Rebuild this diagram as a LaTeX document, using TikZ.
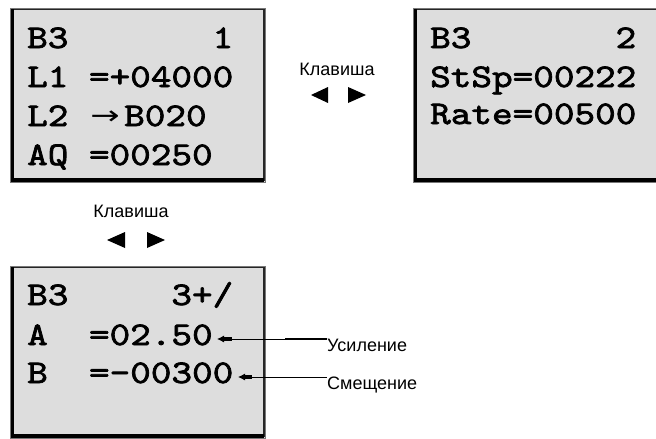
\documentclass[tikz,border=0pt]{standalone}
\usepackage{fontspec}
\setmainfont{Liberation Sans}
\newfontfamily\lcdfont{lmmono10-regular.otf}[FakeBold=2.2,FakeStretch=1.19]
\newfontfamily\symfont{DejaVu Sans}
\usetikzlibrary{arrows.meta}
\definecolor{lcdfill}{RGB}{221,221,221}
\definecolor{lcdrim}{RGB}{120,120,120}
\newcommand\lcdpanel[4]{%
  \fill[lcdfill] (#1,#2) rectangle (#3,#4);
  \draw[lcdrim,line width=1pt] (#1,#2) rectangle (#3,#4);
  \draw[black!85,line width=1.6pt] (#1+1,#2+1.3) -- (#3-1.3,#2+1.3) -- (#3-1.3,#4-1);
  \draw[black,line width=3.4pt] (#1+2.2,#2+1) -- (#1+2.2,#4-2.2) -- (#3-1,#4-2.2);
}
\begin{document}
\begin{tikzpicture}[x=1pt,y=-1pt,
  lcdtxt/.style={anchor=base west,inner sep=0pt,font=\fontsize{33}{33}\lcdfont},
  keytxt/.style={anchor=base,inner sep=0pt,font=\fontsize{18}{18}\selectfont},
  lbl/.style={anchor=base west,inner sep=0pt,font=\fontsize{18}{18}\selectfont},
  keytri/.style={fill=black},
  callout/.style={line width=0.9pt,{Latex[length=7pt,width=7pt]}-},
  stub/.style={line width=3.6pt}]
\useasboundingbox (0,0) rectangle (656,439);
\clip (0,0) rectangle (656,439);
\fill[white] (0,0) rectangle (656,439);

% panel 1
\lcdpanel{10}{8}{265}{182}
\node[lcdtxt] (p1b3) at (27,48) {B3};
\node[lcdtxt] (p1n)  at (212.4,48) {1};
\node[lcdtxt] (p1l1) at (27,87) {L1};
\node[lcdtxt] (p1l1v) at (88.8,87) {=+04000};
\node[lcdtxt] (p1l2) at (27,126) {L2};
\node[anchor=base,inner sep=0pt,font=\fontsize{26}{26}\symfont] (p1arr) at (105,124) {\scalebox{1.35}[1]{→}};
\node[lcdtxt] (p1l2v) at (124,126) {B020};
\node[lcdtxt] (p1aq) at (27,165) {AQ};
\node[lcdtxt] (p1aqv) at (88.8,165) {=00250};

% panel 2
\lcdpanel{413}{8}{670}{182}
\node[lcdtxt] (p2b3) at (430,48) {B3};
\node[lcdtxt] (p2n)  at (615.4,48) {2};
\node[lcdtxt] (p2s) at (430,87) {StSp=00222};
\node[lcdtxt] (p2r) at (430,124) {Rate=00500};

% panel 3
\lcdpanel{10}{266}{265}{438}
\node[lcdtxt] (p3b3) at (27,305) {B3};
\node[lcdtxt] (p3n)  at (171.2,305) {3+/};
\node[lcdtxt] (p3a) at (27,345) {A};
\node[lcdtxt] (p3av) at (88.8,345) {=02.50};
\node[lcdtxt] (p3b) at (27,383) {B};
\node[lcdtxt] (p3bv) at (88.8,383) {=–00300};

% key labels
\node[keytxt] (key1) at (337,75) {Клавиша};
\fill[keytri] (328,87) -- (311,95) -- (328,103) -- cycle;
\fill[keytri] (348,87) -- (366,95) -- (348,103) -- cycle;
\node[keytxt] (key2) at (131,217) {Клавиша};
\fill[keytri] (125,232) -- (107,240) -- (125,248) -- cycle;
\fill[keytri] (147,232) -- (165,240) -- (147,248) -- cycle;

% callouts
\node[lbl] (gain) at (327,351) {Усиление};
\node[lbl] (offs) at (327,389) {Смещение};
\coordinate (ga) at (217,339);
\coordinate (ob) at (238,377);
\draw[callout] (ga) -- (gain.west |- ga);
\draw[stub] (223,339) -- (232,339);
\draw[line width=2.2pt] (285,339) -- (gain.west |- ga);
\draw[callout] (ob) -- (offs.west |- ob);
\draw[stub] (244,377) -- (252,377);
\end{tikzpicture}
\end{document}
